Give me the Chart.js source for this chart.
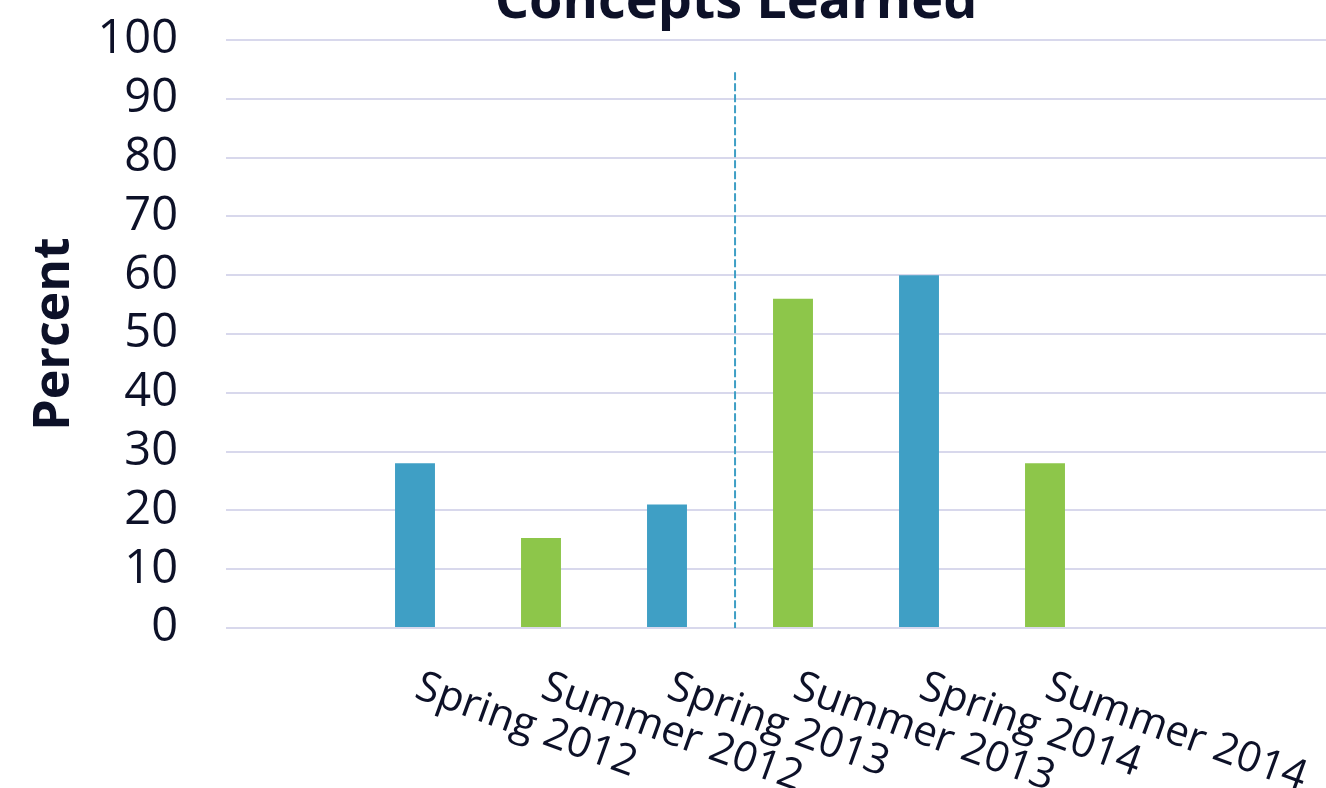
<!DOCTYPE html>
<html>
<head>
<meta charset="utf-8">
<script src="https://cdn.jsdelivr.net/npm/chart.js@4"></script>
<style>
  html, body { margin: 0; padding: 0; background: #fff; overflow: hidden; }
  #wrap { position: absolute; left: 0; top: 0; width: 1326px; height: 788px; overflow: hidden; }
</style>
</head>
<body>
<div id="wrap"><canvas id="graphic" width="1362" height="788"></canvas></div>
<script>
// dados
const categories = ['', 'Spring 2012', 'Summer 2012', 'Spring 2013', 'Summer 2013', 'Spring 2014', 'Summer 2014', '', ''];
const percentLearned = [null, 28, 15.3, 21, 56, 60, 28, null, null];
const yTicks = [0, 10, 20, 30, 40, 50, 60, 70, 80, 90, 100];
const dividerIndex = 3.54;   // entre Spring 2013 e Summer 2013
const dividerTop = 94.5;

const ink = '#0d1128';
const blue = '#3f9fc5';
const green = '#8dc64a';
const gridColor = '#d8d8ec';

const extras = {
    id: 'extras',
    afterDatasetsDraw(chart) {
        const { ctx, scales: { x, y }, chartArea } = chart;
        ctx.save();

        // linha tracejada
        const lx = x.getPixelForValue(dividerIndex);
        ctx.strokeStyle = blue;
        ctx.lineWidth = 2;
        ctx.setLineDash([8, 3]);
        ctx.beginPath();
        ctx.moveTo(lx, y.getPixelForValue(dividerTop));
        ctx.lineTo(lx, y.getPixelForValue(0));
        ctx.stroke();
        ctx.setLineDash([]);

        // rótulos do eixo x, girados
        ctx.fillStyle = ink;
        ctx.font = '42px "Open Sans"';
        ctx.textAlign = 'left';
        ctx.textBaseline = 'alphabetic';
        categories.forEach((lab, i) => {
            if (!lab) return;
            ctx.save();
            ctx.translate(x.getPixelForValue(i) - 2, chartArea.bottom + 69);
            ctx.rotate(20 * Math.PI / 180);
            ctx.fillText(lab, 0, 0);
            ctx.restore();
        });

        // título (cortado no topo)
        ctx.font = 'bold 54px "Open Sans"';
        ctx.textAlign = 'center';
        ctx.fillText('Concepts Learned', 736, 18);
        ctx.restore();
    }
};

new Chart(document.getElementById('graphic'), {
    type: 'bar',
    data: {
        labels: categories,
        datasets: [{
            data: percentLearned,
            backgroundColor: c => (categories[c.dataIndex] || '').startsWith('Spring') ? blue : green,
            categoryPercentage: 1,
            barPercentage: 0.317
        }]
    },
    options: {
        responsive: false,
        animation: false,
        layout: { padding: { top: 40, right: 2, left: 0, bottom: 0 } },
        plugins: { legend: { display: false }, tooltip: { enabled: false }, title: { display: false } },
        scales: {
            x: {
                grid: { display: false },
                border: { display: false },
                ticks: { display: false },
                afterFit: s => { s.height = 160; }
            },
            y: {
                min: 0,
                max: 100,
                afterBuildTicks: s => { s.ticks = yTicks.map(v => ({ value: v })); },
                ticks: { color: ink, padding: 48, autoSkip: false, font: { family: 'Open Sans', size: 47 } },
                grid: { color: gridColor, lineWidth: 2, drawTicks: false },
                border: { display: false },
                title: {
                    display: true,
                    text: 'Percent',
                    color: ink,
                    font: { family: 'Open Sans', size: 50, weight: 'bold' },
                    padding: { top: 25, bottom: 0 }
                },
                afterFit: s => { s.width = 226; s.paddingTop = 0; s.paddingBottom = 0; }
            }
        }
    },
    plugins: [extras]
});
</script>
</body>
</html>
